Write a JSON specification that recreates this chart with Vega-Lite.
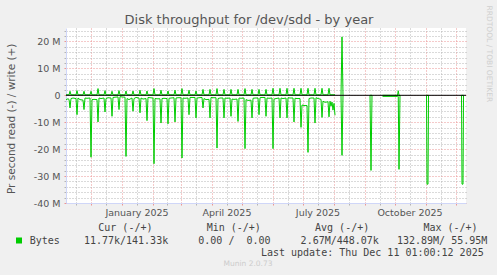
{
  "$schema": "https://vega.github.io/schema/vega-lite/v6.json",
  "width": 400,
  "height": 175,
  "autosize": {"type": "none"},
  "padding": {"left": 66, "top": 28, "right": 31, "bottom": 72},
  "background": "#f0f0f0",
  "config": {"view": {"fill": "#ffffff", "stroke": null}, "font": "DejaVu Sans"},
  "title": {"text": "Munin 2.0.73", "orient": "bottom", "anchor": "middle", "dx": -18, "offset": 3, "fontSize": 7.5, "font": "DejaVu Sans", "fontWeight": "normal", "color": "#cccccc"},
  "layer": [
    {
      "data": {"values": [
        {"t":"2024-11-06T12:00","r":-1.6,"w":0.2,"g":1},
        {"t":"2024-11-08T12:00","r":-1.3,"w":0.2,"g":1},
        {"t":"2024-11-09T12:00","r":-1.5,"w":0.15,"g":1},
        {"t":"2024-11-10T12:00","r":-4.7,"w":1.5,"g":1},
        {"t":"2024-11-11T12:00","r":-1.2,"w":0.15,"g":1},
        {"t":"2024-11-13T12:00","r":-1.0,"w":0.2,"g":1},
        {"t":"2024-11-16T12:00","r":-1.2,"w":0.15,"g":1},
        {"t":"2024-11-17T12:00","r":-7.2,"w":1.75,"g":1},
        {"t":"2024-11-18T12:00","r":-1.0,"w":0.15,"g":1},
        {"t":"2024-11-20T12:00","r":-1.6,"w":0.2,"g":1},
        {"t":"2024-11-23T12:00","r":-1.8,"w":0.15,"g":1},
        {"t":"2024-11-24T12:00","r":-5.3,"w":1.5,"g":1},
        {"t":"2024-11-25T12:00","r":-1.0,"w":0.15,"g":1},
        {"t":"2024-11-27T12:00","r":-1.1,"w":0.2,"g":1},
        {"t":"2024-11-30T12:00","r":-1.0,"w":0.15,"g":1},
        {"t":"2024-12-01T12:00","r":-23.0,"w":1.5,"g":1},
        {"t":"2024-12-02T12:00","r":-1.6,"w":0.15,"g":1},
        {"t":"2024-12-04T12:00","r":-1.5,"w":0.2,"g":1},
        {"t":"2024-12-07T12:00","r":-1.6,"w":0.15,"g":1},
        {"t":"2024-12-08T12:00","r":-9.9,"w":2.5,"g":1},
        {"t":"2024-12-09T12:00","r":-1.0,"w":0.15,"g":1},
        {"t":"2024-12-11T12:00","r":-1.2,"w":0.2,"g":1},
        {"t":"2024-12-14T12:00","r":-1.0,"w":0.15,"g":1},
        {"t":"2024-12-15T12:00","r":-6.2,"w":1.75,"g":1},
        {"t":"2024-12-16T12:00","r":-1.2,"w":0.15,"g":1},
        {"t":"2024-12-18T12:00","r":-0.9,"w":0.2,"g":1},
        {"t":"2024-12-21T12:00","r":-1.0,"w":0.15,"g":1},
        {"t":"2024-12-22T12:00","r":-7.8,"w":1.5,"g":1},
        {"t":"2024-12-23T12:00","r":-0.8,"w":0.15,"g":1},
        {"t":"2024-12-25T12:00","r":-0.7,"w":0.2,"g":1},
        {"t":"2024-12-28T12:00","r":-0.6,"w":0.15,"g":1},
        {"t":"2024-12-29T12:00","r":-5.3,"w":1.75,"g":1},
        {"t":"2024-12-30T12:00","r":-0.5,"w":0.15,"g":1},
        {"t":"2025-01-01T12:00","r":-0.6,"w":0.2,"g":1},
        {"t":"2025-01-04T12:00","r":-0.7,"w":0.15,"g":1},
        {"t":"2025-01-05T12:00","r":-22.7,"w":1.6,"g":1},
        {"t":"2025-01-06T12:00","r":-1.2,"w":0.15,"g":1},
        {"t":"2025-01-08T12:00","r":-1.6,"w":0.2,"g":1},
        {"t":"2025-01-11T12:00","r":-1.0,"w":0.15,"g":1},
        {"t":"2025-01-12T12:00","r":-5.9,"w":1.6,"g":1},
        {"t":"2025-01-13T12:00","r":-1.2,"w":0.15,"g":1},
        {"t":"2025-01-15T12:00","r":-0.8,"w":0.2,"g":1},
        {"t":"2025-01-18T12:00","r":-1.0,"w":0.15,"g":1},
        {"t":"2025-01-19T12:00","r":-6.5,"w":1.9,"g":1},
        {"t":"2025-01-20T12:00","r":-1.0,"w":0.15,"g":1},
        {"t":"2025-01-22T12:00","r":-1.4,"w":0.2,"g":1},
        {"t":"2025-01-25T12:00","r":-1.2,"w":0.15,"g":1},
        {"t":"2025-01-26T12:00","r":-9.4,"w":1.6,"g":1},
        {"t":"2025-01-27T12:00","r":-0.8,"w":0.15,"g":1},
        {"t":"2025-01-29T12:00","r":-0.9,"w":0.2,"g":1},
        {"t":"2025-02-01T12:00","r":-1.0,"w":0.15,"g":1},
        {"t":"2025-02-02T12:00","r":-25.4,"w":2.5,"g":1},
        {"t":"2025-02-03T12:00","r":-1.2,"w":0.15,"g":1},
        {"t":"2025-02-05T12:00","r":-1.3,"w":0.2,"g":1},
        {"t":"2025-02-08T12:00","r":-1.3,"w":0.15,"g":1},
        {"t":"2025-02-09T12:00","r":-10.3,"w":1.9,"g":1},
        {"t":"2025-02-10T12:00","r":-1.2,"w":0.15,"g":1},
        {"t":"2025-02-12T12:00","r":-1.1,"w":0.2,"g":1},
        {"t":"2025-02-15T12:00","r":-1.2,"w":0.15,"g":1},
        {"t":"2025-02-16T12:00","r":-10.6,"w":1.6,"g":1},
        {"t":"2025-02-17T12:00","r":-1.1,"w":0.15,"g":1},
        {"t":"2025-02-19T12:00","r":-1.0,"w":0.2,"g":1},
        {"t":"2025-02-22T12:00","r":-0.9,"w":0.15,"g":1},
        {"t":"2025-02-23T12:00","r":-9.9,"w":1.9,"g":1},
        {"t":"2025-02-24T12:00","r":-1.0,"w":0.15,"g":1},
        {"t":"2025-02-26T12:00","r":-0.9,"w":0.2,"g":1},
        {"t":"2025-03-01T12:00","r":-0.9,"w":0.15,"g":1},
        {"t":"2025-03-02T12:00","r":-23.3,"w":2.5,"g":1},
        {"t":"2025-03-03T12:00","r":-1.0,"w":0.15,"g":1},
        {"t":"2025-03-05T12:00","r":-1.1,"w":0.2,"g":1},
        {"t":"2025-03-08T12:00","r":-1.0,"w":0.15,"g":1},
        {"t":"2025-03-09T12:00","r":-7.2,"w":1.9,"g":1},
        {"t":"2025-03-10T12:00","r":-0.8,"w":0.15,"g":1},
        {"t":"2025-03-12T12:00","r":-0.8,"w":0.2,"g":1},
        {"t":"2025-03-15T12:00","r":-0.8,"w":0.15,"g":1},
        {"t":"2025-03-16T12:00","r":-8.4,"w":1.6,"g":1},
        {"t":"2025-03-17T12:00","r":-1.0,"w":0.15,"g":1},
        {"t":"2025-03-19T12:00","r":-0.9,"w":0.2,"g":1},
        {"t":"2025-03-22T12:00","r":-0.8,"w":0.15,"g":1},
        {"t":"2025-03-23T12:00","r":-4.7,"w":2.2,"g":1},
        {"t":"2025-03-24T12:00","r":-1.2,"w":0.15,"g":1},
        {"t":"2025-03-26T12:00","r":-1.6,"w":0.2,"g":1},
        {"t":"2025-03-29T12:00","r":-1.5,"w":0.15,"g":1},
        {"t":"2025-03-30T12:00","r":-8.4,"w":2.2,"g":1},
        {"t":"2025-03-31T12:00","r":-0.8,"w":0.15,"g":1},
        {"t":"2025-04-02T12:00","r":-0.9,"w":0.2,"g":1},
        {"t":"2025-04-05T12:00","r":-0.9,"w":0.15,"g":1},
        {"t":"2025-04-06T12:00","r":-19.6,"w":2.5,"g":1},
        {"t":"2025-04-07T12:00","r":-1.2,"w":0.15,"g":1},
        {"t":"2025-04-09T12:00","r":-1.0,"w":0.2,"g":1},
        {"t":"2025-04-12T12:00","r":-1.0,"w":0.15,"g":1},
        {"t":"2025-04-13T12:00","r":-8.4,"w":2.2,"g":1},
        {"t":"2025-04-14T12:00","r":-1.0,"w":0.15,"g":1},
        {"t":"2025-04-16T12:00","r":-1.1,"w":0.2,"g":1},
        {"t":"2025-04-19T12:00","r":-1.0,"w":0.15,"g":1},
        {"t":"2025-04-20T12:00","r":-7.8,"w":2.2,"g":1},
        {"t":"2025-04-21T12:00","r":-1.4,"w":0.15,"g":1},
        {"t":"2025-04-23T12:00","r":-1.5,"w":0.2,"g":1},
        {"t":"2025-04-26T12:00","r":-1.4,"w":0.15,"g":1},
        {"t":"2025-04-27T12:00","r":-9.7,"w":2.2,"g":1},
        {"t":"2025-04-28T12:00","r":-1.0,"w":0.15,"g":1},
        {"t":"2025-04-30T12:00","r":-1.1,"w":0.2,"g":1},
        {"t":"2025-05-03T12:00","r":-1.0,"w":0.15,"g":1},
        {"t":"2025-05-04T12:00","r":-19.8,"w":2.5,"g":1},
        {"t":"2025-05-05T12:00","r":-1.6,"w":0.15,"g":1},
        {"t":"2025-05-07T12:00","r":-1.9,"w":0.2,"g":1},
        {"t":"2025-05-10T12:00","r":-1.8,"w":0.15,"g":1},
        {"t":"2025-05-11T12:00","r":-8.4,"w":2.2,"g":1},
        {"t":"2025-05-12T12:00","r":-1.1,"w":0.15,"g":1},
        {"t":"2025-05-14T12:00","r":-1.0,"w":0.2,"g":1},
        {"t":"2025-05-17T12:00","r":-1.0,"w":0.15,"g":1},
        {"t":"2025-05-18T12:00","r":-7.2,"w":2.2,"g":1},
        {"t":"2025-05-19T12:00","r":-0.9,"w":0.15,"g":1},
        {"t":"2025-05-21T12:00","r":-0.8,"w":0.2,"g":1},
        {"t":"2025-05-24T12:00","r":-0.8,"w":0.15,"g":1},
        {"t":"2025-05-25T12:00","r":-7.8,"w":2.2,"g":1},
        {"t":"2025-05-26T12:00","r":-1.0,"w":0.15,"g":1},
        {"t":"2025-05-28T12:00","r":-1.1,"w":0.2,"g":1},
        {"t":"2025-05-31T12:00","r":-1.0,"w":0.15,"g":1},
        {"t":"2025-06-01T12:00","r":-19.8,"w":2.6,"g":1},
        {"t":"2025-06-02T12:00","r":-1.4,"w":0.15,"g":1},
        {"t":"2025-06-04T12:00","r":-1.2,"w":0.2,"g":1},
        {"t":"2025-06-07T12:00","r":-1.0,"w":0.15,"g":1},
        {"t":"2025-06-08T12:00","r":-8.4,"w":2.6,"g":1},
        {"t":"2025-06-09T12:00","r":-1.0,"w":0.15,"g":1},
        {"t":"2025-06-11T12:00","r":-1.2,"w":0.2,"g":1},
        {"t":"2025-06-14T12:00","r":-1.0,"w":0.15,"g":1},
        {"t":"2025-06-15T12:00","r":-8.4,"w":2.6,"g":1},
        {"t":"2025-06-16T12:00","r":-0.9,"w":0.15,"g":1},
        {"t":"2025-06-18T12:00","r":-1.0,"w":0.2,"g":1},
        {"t":"2025-06-21T12:00","r":-1.0,"w":0.15,"g":1},
        {"t":"2025-06-22T12:00","r":-9.9,"w":2.6,"g":1},
        {"t":"2025-06-23T12:00","r":-1.1,"w":0.15,"g":1},
        {"t":"2025-06-25T12:00","r":-1.2,"w":0.2,"g":1},
        {"t":"2025-06-28T12:00","r":-1.2,"w":0.15,"g":1},
        {"t":"2025-06-29T12:00","r":-11.9,"w":2.6,"g":1},
        {"t":"2025-06-30T12:00","r":-3.6,"w":0.15,"g":1},
        {"t":"2025-07-02T12:00","r":-3.8,"w":0.2,"g":1},
        {"t":"2025-07-05T12:00","r":-3.8,"w":0.15,"g":1},
        {"t":"2025-07-06T12:00","r":-21.2,"w":2.6,"g":1},
        {"t":"2025-07-07T12:00","r":-1.2,"w":0.15,"g":1},
        {"t":"2025-07-09T12:00","r":-1.0,"w":0.2,"g":1},
        {"t":"2025-07-12T12:00","r":-1.0,"w":0.15,"g":1},
        {"t":"2025-07-13T12:00","r":-10.3,"w":2.6,"g":1},
        {"t":"2025-07-14T12:00","r":-0.9,"w":0.15,"g":1},
        {"t":"2025-07-16T12:00","r":-1.2,"w":0.2,"g":1},
        {"t":"2025-07-19T12:00","r":-1.5,"w":0.15,"g":1},
        {"t":"2025-07-20T12:00","r":-8.2,"w":2.6,"g":1},
        {"t":"2025-07-21T12:00","r":-2.2,"w":0.15,"g":1},
        {"t":"2025-07-23T12:00","r":-2.6,"w":0.2,"g":1},
        {"t":"2025-07-26T12:00","r":-2.4,"w":0.15,"g":1},
        {"t":"2025-07-27T12:00","r":-8.0,"w":2.6,"g":1},
        {"t":"2025-07-28T12:00","r":-2.2,"w":0.15,"g":1},
        {"t":"2025-07-29T12:00","r":-4.0,"w":0.2,"g":1},
        {"t":"2025-07-30T12:00","r":-2.5,"w":0.2,"g":1},
        {"t":"2025-07-31T12:00","r":-5.5,"w":0.2,"g":1},
        {"t":"2025-08-01T12:00","r":-3.0,"w":0.2,"g":1},
        {"t":"2025-08-02T12:00","r":-7.4,"w":0.2,"g":1},
        {"t":"2025-08-08T12:00","r":0,"w":0,"g":2},
        {"t":"2025-08-09T12:00","r":-22.3,"w":21.7,"g":2},
        {"t":"2025-08-10T12:00","r":0,"w":0,"g":2},
        {"t":"2025-09-06T12:00","r":0,"w":0,"g":3},
        {"t":"2025-09-07T12:00","r":-27.9,"w":0,"g":3},
        {"t":"2025-09-08T12:00","r":0,"w":0,"g":3},
        {"t":"2025-09-19T00:00","r":-0.4,"w":0,"g":4},
        {"t":"2025-10-04T00:00","r":-0.4,"w":0,"g":4},
        {"t":"2025-10-04T18:00","r":-0.4,"w":1.7,"g":4},
        {"t":"2025-10-05T12:00","r":-27.5,"w":0,"g":4},
        {"t":"2025-10-06T12:00","r":0,"w":0,"g":4},
        {"t":"2025-11-02T00:00","r":0,"w":0,"g":5},
        {"t":"2025-11-02T12:00","r":-33.0,"w":0,"g":5},
        {"t":"2025-11-03T12:00","r":-33.0,"w":0,"g":5},
        {"t":"2025-11-04T00:00","r":0,"w":0,"g":5},
        {"t":"2025-12-07T00:00","r":0,"w":0,"g":6},
        {"t":"2025-12-07T12:00","r":-33.0,"w":0,"g":6},
        {"t":"2025-12-08T12:00","r":-33.0,"w":0,"g":6},
        {"t":"2025-12-09T00:00","r":0,"w":0,"g":6}
      ]},
      "transform": [{"fold": ["r", "w"], "as": ["k", "v"]}],
      "mark": {"type": "line", "strokeWidth": 1, "clip": true},
      "encoding": {
        "x": {
          "field": "t", "type": "temporal",
          "scale": {"domain": [{"year": 2024, "month": 11, "date": 6, "hours": 12}, {"year": 2025, "month": 12, "date": 11, "hours": 12}]},
          "axis": {
            "orient": "bottom",
            "values": [
              {"year": 2024, "month": 11, "date": 16},
              {"year": 2024, "month": 12, "date": 1}, {"year": 2024, "month": 12, "date": 16},
              {"year": 2025, "month": 1, "date": 1}, {"year": 2025, "month": 1, "date": 16},
              {"year": 2025, "month": 2, "date": 1}, {"year": 2025, "month": 2, "date": 16},
              {"year": 2025, "month": 3, "date": 1}, {"year": 2025, "month": 3, "date": 16},
              {"year": 2025, "month": 4, "date": 1}, {"year": 2025, "month": 4, "date": 16},
              {"year": 2025, "month": 5, "date": 1}, {"year": 2025, "month": 5, "date": 16},
              {"year": 2025, "month": 6, "date": 1}, {"year": 2025, "month": 6, "date": 16},
              {"year": 2025, "month": 7, "date": 1}, {"year": 2025, "month": 7, "date": 16},
              {"year": 2025, "month": 8, "date": 1}, {"year": 2025, "month": 8, "date": 16},
              {"year": 2025, "month": 9, "date": 1}, {"year": 2025, "month": 9, "date": 16},
              {"year": 2025, "month": 10, "date": 1}, {"year": 2025, "month": 10, "date": 16},
              {"year": 2025, "month": 11, "date": 1}, {"year": 2025, "month": 11, "date": 16},
              {"year": 2025, "month": 12, "date": 1}
            ],
            "labelExpr": "date(datum.value) == 16 && month(datum.value) % 3 == 0 ? timeFormat(datum.value, '%B %Y') : ''",
            "labelOverlap": false, "labelFlush": false,
            "labelFont": "DejaVu Sans", "labelFontSize": 9.5, "labelColor": "#555555", "labelPadding": 2,
            "grid": true,
            "gridColor": {"condition": {"test": "date(datum.value) == 1", "value": "#eb9595"}, "value": "#b4b4b4"},
            "gridDash": [1, 2],
            "ticks": true, "tickSize": 2,
            "tickColor": {"condition": {"test": "date(datum.value) == 1", "value": "#eb9595"}, "value": "#b4b4b4"},
            "domainColor": "#cfd6f8",
            "title": "Last update: Thu Dec 11 01:00:12 2025",
            "titleFont": "DejaVu Sans Mono", "titleFontSize": 10, "titleFontWeight": "normal", "titleColor": "#444444",
            "titleAlign": "right", "titleBaseline": "alphabetic", "titleX": 417.2, "titleY": 52.3
          }
        },
        "y": {
          "field": "v", "type": "quantitative",
          "scale": {"domain": [-40, 25], "nice": false, "zero": false},
          "axis": {
            "orient": "left",
            "values": [-40, -38, -36, -34, -32, -30, -28, -26, -24, -22, -20, -18, -16, -14, -12, -10, -8, -6, -4, -2, 0, 2, 4, 6, 8, 10, 12, 14, 16, 18, 20, 22, 24],
            "labelExpr": "datum.value % 10 == 0 ? (datum.value == 0 ? '0' : datum.value + ' M') : ''",
            "labelFont": "DejaVu Sans", "labelFontSize": 9.5, "labelColor": "#555555", "labelPadding": 4,
            "grid": true,
            "gridColor": {"condition": {"test": "datum.value % 10 == 0", "value": "#eb9595"}, "value": "#b4b4b4"},
            "gridDash": [1, 2],
            "ticks": true, "tickSize": 2,
            "tickColor": {"condition": {"test": "datum.value % 10 == 0", "value": "#eb9595"}, "value": "#b4b4b4"},
            "domainColor": "#cfd6f8",
            "title": "Pr second read (-) / write (+)",
            "titleFont": "DejaVu Sans", "titleFontSize": 10.5, "titleFontWeight": "normal", "titleColor": "#555555",
            "titleAngle": 270, "titleAlign": "center", "titleBaseline": "middle", "titleX": -55, "titleY": 90.3
          }
        },
        "detail": [{"field": "g"}, {"field": "k"}],
        "color": {
          "datum": "Bytes",
          "scale": {"range": ["#00cc00"]},
          "legend": {
            "orient": "none", "legendX": -52, "legendY": 194.5,
            "title": "\u200b\u00a0\u00a0\u00a0\u00a0\u00a0\u00a0\u00a0\u00a0\u00a0\u00a0\u00a0\u00a0\u00a0\u00a0Cur\u00a0(-/+)\u00a0\u00a0\u00a0\u00a0\u00a0\u00a0\u00a0\u00a0\u00a0Min\u00a0(-/+)\u00a0\u00a0\u00a0\u00a0\u00a0\u00a0\u00a0\u00a0\u00a0Avg\u00a0(-/+)\u00a0\u00a0\u00a0\u00a0\u00a0\u00a0\u00a0\u00a0\u00a0Max\u00a0(-/+)",
            "titleFont": "DejaVu Sans Mono", "titleFontSize": 10, "titleFontWeight": "normal", "titleColor": "#444444",
            "titleLimit": 700, "titlePadding": 3, "titleAnchor": "start",
            "labelExpr": "'Bytes\u00a0\u00a0\u00a0\u00a011.77k/141.33k\u00a0\u00a0\u00a0\u00a0\u00a00.00\u00a0/\u00a0\u00a00.00\u00a0\u00a0\u00a0\u00a0\u00a02.67M/448.07k\u00a0\u00a0\u00a0132.89M/\u00a055.95M'",
            "labelFont": "DejaVu Sans Mono", "labelFontSize": 10, "labelColor": "#444444", "labelLimit": 700, "labelOffset": 5.7,
            "symbolType": "square", "symbolSize": 9, "symbolStrokeWidth": 3, "symbolFillColor": "#00cc00", "symbolOpacity": 1,
            "padding": 0, "rowPadding": 0
          }
        }
      }
    },
    {
      "data": {"values": [{}]},
      "mark": {"type": "rule", "color": "#000000", "strokeWidth": 1},
      "encoding": {
        "x": {
          "datum": {"year": 2024, "month": 11, "date": 6, "hours": 12}, "type": "temporal",
          "axis": {
            "orient": "top", "labels": false, "ticks": false, "domain": false, "grid": false,
            "title": "Disk throughput for /dev/sdd - by year",
            "titleFont": "DejaVu Sans", "titleFontSize": 13, "titleFontWeight": "normal", "titleColor": "#555555",
            "titleAlign": "center", "titleBaseline": "alphabetic", "titleX": 182.5, "titleY": -4.7
          }
        },
        "x2": {"datum": {"year": 2025, "month": 12, "date": 11, "hours": 12}},
        "y": {
          "datum": 0, "type": "quantitative",
          "axis": {
            "orient": "right", "labels": false, "ticks": false, "domain": false, "grid": false,
            "title": "RRDTOOL / TOBI OETIKER",
            "titleFont": "DejaVu Sans", "titleFontSize": 7.5, "titleFontWeight": "normal", "titleColor": "#cfcfcf",
            "titleAngle": 90, "titleAlign": "center", "titleBaseline": "middle", "titleX": 22, "titleY": 25.3
          }
        }
      }
    }
  ],
  "resolve": {"axis": {"x": "independent", "y": "independent"}}
}
